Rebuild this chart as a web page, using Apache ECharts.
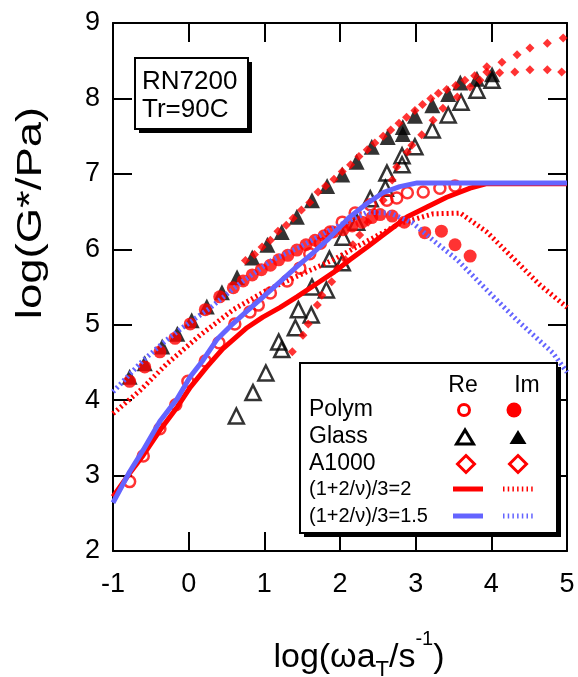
<!DOCTYPE html>
<html>
<head>
<meta charset="utf-8">
<script src="https://cdn.jsdelivr.net/npm/echarts@6/dist/echarts.min.js"></script>
<style>
  html, body { margin: 0; padding: 0; background: #fff; }
  #chart { width: 578px; height: 677px; }
</style>
</head>
<body>
<div id="chart"></div>
<script>
// Axis ranges and ticks (log10 of reduced frequency and of modulus)
const xTicks = [-1, 0, 1, 2, 3, 4, 5];
const yTicks = [2, 3, 4, 5, 6, 7, 8, 9];

// Polymer: storage (Re) and loss (Im) parts
const polymReX = [-0.78,-0.60,-0.38,-0.17,-0.01,0.22,0.40,0.61,0.81,0.92,1.08,1.30,1.47,1.60,1.74,1.87,2.03,2.20,2.40,2.62,2.75,2.89,3.10,3.32,3.52];
const polymReY = [2.92,3.26,3.62,3.94,4.25,4.52,4.76,5.01,5.17,5.26,5.42,5.58,5.75,5.94,6.08,6.23,6.36,6.48,6.59,6.65,6.68,6.75,6.76,6.81,6.84];
const polymImX = [-0.78,-0.58,-0.38,-0.18,0.02,0.22,0.41,0.59,0.72,0.84,0.96,1.08,1.19,1.31,1.43,1.55,1.67,1.79,1.91,2.04,2.16,2.29,2.42,2.53,2.69,2.85,3.12,3.34,3.52,3.72];
const polymImY = [4.25,4.44,4.64,4.82,5.01,5.20,5.37,5.49,5.58,5.66,5.73,5.79,5.86,5.92,5.99,6.06,6.12,6.18,6.23,6.26,6.31,6.36,6.42,6.46,6.44,6.36,6.22,6.24,6.06,5.91];

// Glass
const glassReX = [0.63,0.85,1.02,1.19,1.23,1.41,1.45,1.62,1.63,1.82,1.86,2.03,2.04,2.22,2.40,2.60,2.62,2.82,2.82,2.99,3.22,3.43,3.60,3.81,4.01];
const glassReY = [3.79,4.10,4.36,4.77,4.67,4.96,5.20,5.13,5.50,5.46,5.87,5.82,6.16,6.36,6.67,6.81,7.01,7.12,7.24,7.36,7.58,7.78,7.95,8.11,8.24];
const glassImX = [-0.78,-0.58,-0.35,-0.15,0.04,0.24,0.44,0.64,0.84,1.04,1.23,1.43,1.63,1.83,2.03,2.22,2.42,2.63,2.83,2.83,2.99,3.22,3.43,3.59,3.81,4.01];
const glassImY = [4.31,4.49,4.71,4.88,5.06,5.24,5.43,5.63,5.89,6.06,6.23,6.43,6.65,6.84,6.99,7.16,7.36,7.49,7.53,7.62,7.77,7.91,8.06,8.21,8.26,8.32];

// A1000
const a1000ReX = [1.37,1.51,1.58,1.70,1.76,1.89,1.97,2.07,2.17,2.26,2.37,2.46,2.57,2.69,2.75,2.89,2.95,3.08,3.23,3.36,3.55,3.72,3.85,3.94,4.11,4.31,4.51,4.74,4.93];
const a1000ReY = [4.64,4.86,5.01,5.26,5.39,5.57,5.75,5.86,6.06,6.19,6.36,6.49,6.65,6.92,7.09,7.29,7.38,7.52,7.71,7.87,8.02,8.15,8.24,8.35,8.34,8.35,8.38,8.38,8.35];
const a1000ImX = [0.75,0.87,0.97,1.08,1.18,1.29,1.38,1.49,1.60,1.71,1.81,1.92,2.03,2.14,2.25,2.36,2.46,2.57,2.67,2.78,2.88,2.99,3.09,3.20,3.30,3.41,3.53,3.65,3.78,3.94,4.14,4.34,4.51,4.74,4.95];
const a1000ImY = [5.85,5.93,6.03,6.12,6.24,6.32,6.41,6.52,6.62,6.76,6.84,6.93,7.03,7.12,7.23,7.32,7.41,7.50,7.58,7.67,7.75,7.84,7.92,8.00,8.07,8.12,8.17,8.24,8.30,8.42,8.48,8.58,8.67,8.73,8.80];

// Model curves, (1+2/ν)/3 = 2
const model2ReX = [-1.00,-0.78,-0.60,-0.38,-0.15,0.02,0.24,0.45,0.77,0.98,1.21,1.43,1.70,1.91,2.13,2.36,2.53,2.89,3.15,3.41,3.72,3.94,5.00];
const model2ReY = [2.72,3.03,3.27,3.60,3.91,4.17,4.44,4.68,4.96,5.10,5.23,5.37,5.55,5.69,5.86,6.03,6.16,6.43,6.56,6.69,6.81,6.87,6.87];
const model2ImX = [-1.00,-0.64,-0.29,0.15,0.59,1.04,1.47,1.91,2.36,2.79,3.23,3.59,3.94,4.29,4.64,5.00];
const model2ImY = [3.82,4.13,4.48,4.86,5.20,5.46,5.66,5.86,6.11,6.34,6.47,6.48,6.23,5.88,5.53,5.23];

// Model curves, (1+2/ν)/3 = 1.5
const model15ReX = [-1.00,-0.78,-0.60,-0.38,-0.15,0.02,0.19,0.37,0.55,0.77,0.94,1.21,1.43,1.64,1.83,2.13,2.36,2.57,2.79,3.02,5.00];
const model15ReY = [2.64,3.05,3.34,3.72,4.02,4.31,4.53,4.80,4.98,5.18,5.33,5.57,5.77,5.95,6.12,6.43,6.61,6.75,6.83,6.88,6.88];
const model15ImX = [-1.00,-0.60,-0.29,-0.07,0.28,0.68,1.11,1.47,1.91,2.36,2.66,2.96,3.23,3.55,3.94,4.34,4.81,5.00];
const model15ImY = [4.11,4.53,4.80,4.97,5.22,5.55,5.86,6.03,6.28,6.49,6.48,6.35,6.12,5.86,5.46,5.06,4.63,4.37];

const RED = '#ff0000';
const BLUE = '#6464ff';
const FONT = '"Liberation Sans", Arial, Helvetica, sans-serif';

const pairs = (xs, ys) => xs.map((x, i) => [x, ys[i]]);

function openMarks(name, xs, ys, symbol, size, color, bw) {
  return { name, type: 'scatter', data: pairs(xs, ys), symbol, symbolSize: size,
    itemStyle: { color: 'rgba(0,0,0,0)', borderColor: color, borderWidth: bw } };
}
function filledMarks(name, xs, ys, symbol, size, color) {
  return { name, type: 'scatter', data: pairs(xs, ys), symbol, symbolSize: size,
    itemStyle: { color } };
}
function curve(name, xs, ys, color, dotted) {
  return { name, type: 'line', data: pairs(xs, ys), showSymbol: false, symbol: 'none',
    lineStyle: { color, width: 5, type: dotted ? [2, 3] : 'solid', cap: 'butt' } };
}

const axisCommon = {
  type: 'value',
  axisLine: { onZero: false, lineStyle: { color: '#000', width: 2 } },
  axisTick: { inside: true, length: 19, lineStyle: { color: '#000', width: 2 } },
  splitLine: { show: false }
};

const chart = echarts.init(document.getElementById('chart'), null, { renderer: 'canvas' });

// Legend block: a small table of symbols under "Re" / "Im"
const LX = 300, LY = 363, LW = 257, LH = 170;
const legendRows = [
  { label: 'Polym', y: 410, size: 23 },
  { label: 'Glass', y: 437, size: 23 },
  { label: 'A1000', y: 464, size: 23 },
  { label: '(1+2/\u03bd)/3=2', y: 489, size: 20 },
  { label: '(1+2/\u03bd)/3=1.5', y: 516, size: 20 }
];
const reCol = 465, imCol = 517;

const tri = (cx, cy) => [[cx, cy - 8], [cx - 8.5, cy + 6], [cx + 8.5, cy + 6]];
const dia = (cx, cy) => [[cx, cy - 8.5], [cx + 8.5, cy], [cx, cy + 8.5], [cx - 8.5, cy]];

const graphics = [
  // sample label box
  { type: 'rect', z: 100, shape: { x: 139, y: 62, width: 113, height: 71 }, style: { fill: '#000' } },
  { type: 'rect', z: 101, shape: { x: 135, y: 58, width: 113, height: 71 }, style: { fill: '#fff', stroke: '#000', lineWidth: 2 } },
  { type: 'text', z: 102, x: 142, y: 82, style: { text: 'RN7200', font: '26px ' + FONT, fill: '#000', align: 'left', verticalAlign: 'middle' } },
  { type: 'text', z: 102, x: 142, y: 110, style: { text: 'Tr=90C', font: '26px ' + FONT, fill: '#000', align: 'left', verticalAlign: 'middle' } },

  // legend frame
  { type: 'rect', z: 100, shape: { x: LX + 4, y: LY + 4, width: LW, height: LH }, style: { fill: '#000' } },
  { type: 'rect', z: 101, shape: { x: LX, y: LY, width: LW, height: LH }, style: { fill: '#fff', stroke: '#000', lineWidth: 2 } },
  { type: 'text', z: 102, x: 463, y: 386, style: { text: 'Re', font: '23px ' + FONT, fill: '#000', align: 'center', verticalAlign: 'middle' } },
  { type: 'text', z: 102, x: 527, y: 386, style: { text: 'Im', font: '23px ' + FONT, fill: '#000', align: 'center', verticalAlign: 'middle' } },

  // legend symbols
  { type: 'circle', z: 102, shape: { cx: reCol - 1, cy: 410, r: 5.5 }, style: { fill: 'none', stroke: RED, lineWidth: 3 } },
  { type: 'circle', z: 102, shape: { cx: imCol - 3, cy: 410, r: 7.5 }, style: { fill: RED } },
  { type: 'polygon', z: 102, shape: { points: tri(reCol, 438) }, style: { fill: 'none', stroke: '#000', lineWidth: 3 } },
  { type: 'polygon', z: 102, shape: { points: tri(imCol + 1, 438) }, style: { fill: '#000' } },
  { type: 'polygon', z: 102, shape: { points: dia(reCol + 1, 464) }, style: { fill: 'none', stroke: RED, lineWidth: 3 } },
  { type: 'polygon', z: 102, shape: { points: dia(imCol + 1, 464) }, style: { fill: 'none', stroke: RED, lineWidth: 3 } },
  { type: 'line', z: 102, shape: { x1: 453, y1: 489, x2: 483, y2: 489 }, style: { stroke: RED, lineWidth: 5 } },
  { type: 'line', z: 102, shape: { x1: 503, y1: 489, x2: 533, y2: 489 }, style: { stroke: RED, lineWidth: 5, lineDash: [1.5, 3.2] } },
  { type: 'line', z: 102, shape: { x1: 453, y1: 516, x2: 483, y2: 516 }, style: { stroke: BLUE, lineWidth: 5 } },
  { type: 'line', z: 102, shape: { x1: 503, y1: 516, x2: 533, y2: 516 }, style: { stroke: BLUE, lineWidth: 5, lineDash: [1.5, 3.2] } },

  // y axis title
  { type: 'text', z: 102, x: 31, y: 213, rotation: Math.PI / 2, scaleX: 1.3,
    style: { text: 'log(G*/Pa)', font: '35px ' + FONT, fill: '#000', align: 'center', verticalAlign: 'middle' } }
];
legendRows.forEach(r => graphics.push({ type: 'text', z: 102, x: 309, y: r.y,
  style: { text: r.label, font: r.size + 'px ' + FONT, fill: '#000', align: 'left', verticalAlign: 'middle' } }));

// x axis title, laid out piece by piece so the subscript and superscript sit at their own heights
const xTitleParts = [
  { text: 'log(\u03c9a', size: 34, dy: 0 },
  { text: 'T', size: 22, dy: 12 },
  { text: '/s', size: 34, dy: 0 },
  { text: '-1', size: 20, dy: -19 },
  { text: ')', size: 34, dy: 0 }
];
(function () {
  const ctx = document.createElement('canvas').getContext('2d');
  const widths = xTitleParts.map(p => { ctx.font = p.size + 'px ' + FONT; return ctx.measureText(p.text).width; });
  const total = widths.reduce((a, b) => a + b, 0);
  let x = 359 - total / 2;
  const midY = 658;
  xTitleParts.forEach((p, i) => {
    graphics.push({ type: 'text', z: 102, x, y: midY + p.dy,
      style: { text: p.text, font: p.size + 'px ' + FONT, fill: '#000', align: 'left', verticalAlign: 'middle' } });
    x += widths[i];
  });
})();

chart.setOption({
  animation: false,
  backgroundColor: '#fff',
  grid: { left: 113, right: 11, top: 23, bottom: 126, containLabel: false },
  xAxis: [
    Object.assign({}, axisCommon, { position: 'bottom', min: xTicks[0], max: xTicks[xTicks.length - 1], interval: 1,
      axisLabel: { color: '#000', fontSize: 27, fontFamily: FONT, margin: 20 } }),
    Object.assign({}, axisCommon, { position: 'top', min: xTicks[0], max: xTicks[xTicks.length - 1], interval: 1,
      axisLabel: { show: false } })
  ],
  yAxis: [
    Object.assign({}, axisCommon, { position: 'left', min: yTicks[0], max: yTicks[yTicks.length - 1], interval: 1,
      axisLabel: { color: '#000', fontSize: 27, fontFamily: FONT, margin: 13 } }),
    Object.assign({}, axisCommon, { position: 'right', min: yTicks[0], max: yTicks[yTicks.length - 1], interval: 1,
      axisLabel: { show: false } })
  ],
  series: [
    openMarks('Glass Re', glassReX, glassReY, 'triangle', 15, '#000', 2.5),
    filledMarks('Glass Im', glassImX, glassImY, 'triangle', 16, '#000'),
    openMarks('Polym Re', polymReX, polymReY, 'circle', 11, RED, 2.5),
    filledMarks('Polym Im', polymImX, polymImY, 'circle', 13, RED),
    filledMarks('A1000 Re', a1000ReX, a1000ReY, 'diamond', 9, RED),
    filledMarks('A1000 Im', a1000ImX, a1000ImY, 'diamond', 9, RED),
    curve('(1+2/\u03bd)/3=2 Re', model2ReX, model2ReY, RED, false),
    curve('(1+2/\u03bd)/3=2 Im', model2ImX, model2ImY, RED, true),
    curve('(1+2/\u03bd)/3=1.5 Re', model15ReX, model15ReY, BLUE, false),
    curve('(1+2/\u03bd)/3=1.5 Im', model15ImX, model15ImY, BLUE, true)
  ],
  graphic: { elements: graphics }
});
</script>
</body>
</html>
